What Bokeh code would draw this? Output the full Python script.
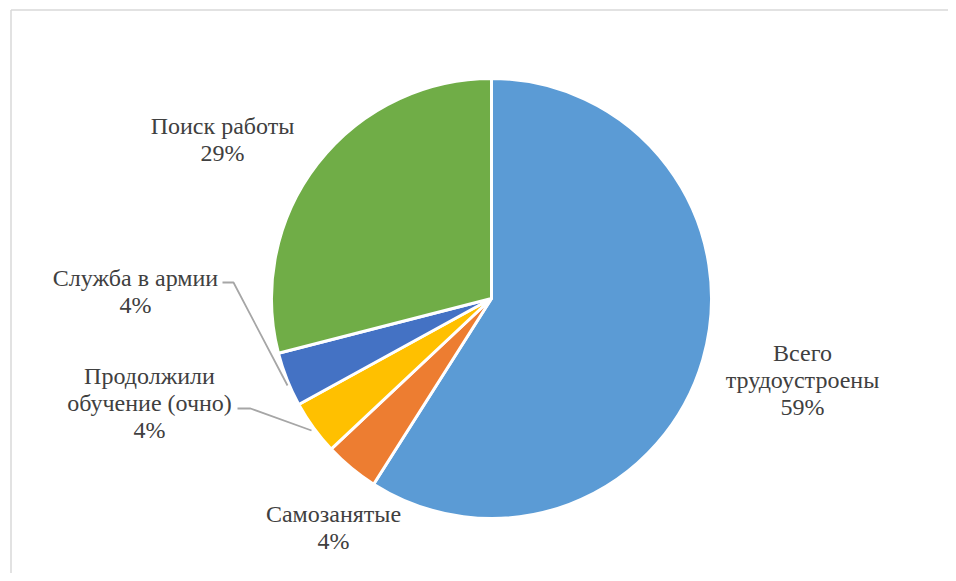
import numpy as np
from bokeh.plotting import figure
from bokeh.models import Range1d, ColumnDataSource
from bokeh.core.properties import value
from bokeh.embed import file_html
from bokeh.resources import INLINE

# ---- data ----
categories = ["Всего трудоустроены", "Самозанятые", "Продолжили обучение (очно)",
              "Служба в армии", "Поиск работы"]
values = [59, 4, 4, 4, 29]
colors = ["#5B9BD5", "#ED7D31", "#FFC000", "#4472C4", "#70AD47"]
label_lines = [["Всего", "трудоустроены", "59%"],
               ["Самозанятые", "4%"],
               ["Продолжили", "обучение (очно)", "4%"],
               ["Служба в армии", "4%"],
               ["Поиск работы", "29%"]]

# ---- layout (page pixels) ----
W, H = 948, 573
def X(px): return px
def Y(py): return H - py

cx, cy, r = X(491), Y(298), 220
# first-line centre for each label (page px)
label_pos = [(802, 352), (333, 513), (149, 375), (135, 277), (222, 125)]
line_gap = 27
leaders = [None, None,
           [(237, 408), (250, 408), (311, 430)],
           [(222, 282), (233, 282), (287, 385)],
           None]

p = figure(width=W, height=H, output_backend="svg", toolbar_location=None,
           x_range=Range1d(0, W), y_range=Range1d(0, H), min_border=0)
p.axis.visible = False
p.grid.visible = False
p.outline_line_color = None
p.background_fill_color = "white"
p.border_fill_color = "white"

# chart border (only left/top visible in the frame)
p.line([X(10.5), X(10.5)], [0, Y(9.5)], line_color="#D9D9D9", line_width=1.5)
p.line([X(10.5), W], [Y(9.5), Y(9.5)], line_color="#D9D9D9", line_width=1.5)

vals = np.array(values, dtype=float)
frac = vals / vals.sum()
cum_end = np.cumsum(frac)
cum_start = cum_end - frac
start = np.pi / 2 - cum_start * 2 * np.pi
end = np.pi / 2 - cum_end * 2 * np.pi

src = ColumnDataSource(dict(start=start, end=end, color=colors, cat=categories))
p.wedge(x=cx, y=cy, radius=r, start_angle="start", end_angle="end",
        direction="clock", fill_color="color", line_color="white",
        line_width=3, source=src)

for lead in leaders:
    if lead:
        p.line([X(a) for a, b in lead], [Y(b) for a, b in lead],
               line_color="#A6A6A6", line_width=1.8)

for lines, (lx, ly) in zip(label_lines, label_pos):
    xs = [X(lx)] * len(lines)
    ys = [Y(ly + i * line_gap) for i in range(len(lines))]
    # spacer glyph in another font so the serif font is set afresh each time
    p.text([X(lx)], [ys[0]], text=[" "], text_font=value("DejaVu Sans Mono"),
           text_font_size="24px", text_alpha=0)
    p.text(xs, ys, text=lines, text_font=value("Liberation Serif"),
           text_font_size="24px", text_color="#404040",
           text_align="center", text_baseline="middle")

open("out.html", "w").write(file_html(p, INLINE))
